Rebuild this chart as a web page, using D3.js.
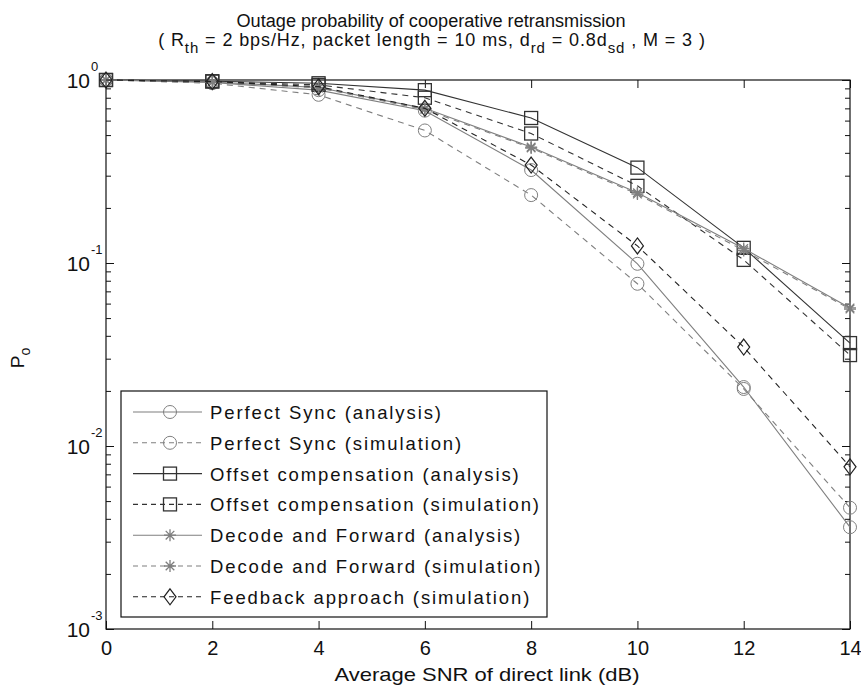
<!DOCTYPE html>
<html>
<head>
<meta charset="utf-8">
<script src="https://cdn.jsdelivr.net/npm/d3@7"></script>
<style>
  body { margin: 0; background: #fff; }
  svg { display: block; font-family: "Liberation Sans", Arial, sans-serif; }
</style>
</head>
<body>
<svg id="chart" width="861" height="687"></svg>
<script>
// data
var snr = [0, 2, 4, 6, 8, 10, 12, 14];
var psAna = [1, 0.97, 0.88, 0.68, 0.322, 0.099, 0.021, 0.0036];
var psSim = [1, 0.96, 0.83, 0.53, 0.235, 0.077, 0.0205, 0.0046];
var ocAna = [1, 0.985, 0.96, 0.88, 0.62, 0.332, 0.121, 0.0365];
var ocSim = [1, 0.98, 0.94, 0.80, 0.51, 0.264, 0.104, 0.0314];
var dfAna = [1, 0.975, 0.91, 0.70, 0.43, 0.242, 0.12, 0.0568];
var dfSim = [1, 0.975, 0.905, 0.69, 0.425, 0.238, 0.117, 0.056];
var fbSim = [1, 0.98, 0.92, 0.70, 0.343, 0.124, 0.0347, 0.0077];
var xTicks = [0, 2, 4, 6, 8, 10, 12, 14];
var yExps = [0, -1, -2, -3];

(function () {
  var series = [
    { name: 'Perfect Sync (analysis)', values: psAna, color: '#7f7f7f', dash: null, marker: 'circle' },
    { name: 'Perfect Sync (simulation)', values: psSim, color: '#7f7f7f', dash: '6,5', marker: 'circle' },
    { name: 'Offset compensation (analysis)', values: ocAna, color: '#333', dash: null, marker: 'square' },
    { name: 'Offset compensation (simulation)', values: ocSim, color: '#333', dash: '6,5', marker: 'square' },
    { name: 'Decode and Forward (analysis)', values: dfAna, color: '#7f7f7f', dash: null, marker: 'star' },
    { name: 'Decode and Forward (simulation)', values: dfSim, color: '#7f7f7f', dash: '6,5', marker: 'star' },
    { name: 'Feedback approach (simulation)', values: fbSim, color: '#222', dash: '6,5', marker: 'diamond' }
  ];

  var svg = d3.select('#chart');
  var pl = 106, pr = 850, pt = 80, pb = 629;

  var x = d3.scaleLinear().domain([0, 14]).range([pl, pr]);
  var y = d3.scaleLog().domain([1e-3, 1]).range([pb, pt]);

  var minors = [];
  yExps.slice(0, 3).forEach(function (e) {
    for (var k = 2; k <= 9; k++) minors.push(k * Math.pow(10, e - 1));
  });
  var majors = yExps.map(function (e) { return Math.pow(10, e); });

  function noDomain(g) { g.select('.domain').remove(); }

  // ticks on all four sides, pointing inward
  svg.append('g').attr('transform', 'translate(0,' + pb + ')')
      .call(d3.axisBottom(x).tickValues(xTicks).tickSize(-8).tickPadding(12).tickSizeOuter(0))
      .call(noDomain)
      .call(function (g) {
        g.selectAll('text').attr('font-size', 20).attr('fill', '#111').attr('font-family', 'Liberation Sans');
      });
  svg.append('g').attr('transform', 'translate(0,' + pt + ')')
      .call(d3.axisTop(x).tickValues(xTicks).tickSize(-8).tickFormat('').tickSizeOuter(0))
      .call(noDomain);
  [[d3.axisLeft, pl], [d3.axisRight, pr]].forEach(function (a) {
    svg.append('g').attr('transform', 'translate(' + a[1] + ',0)')
        .call(a[0](y).tickValues(majors).tickSize(-8).tickFormat('').tickSizeOuter(0))
        .call(noDomain);
    svg.append('g').attr('transform', 'translate(' + a[1] + ',0)')
        .call(a[0](y).tickValues(minors).tickSize(-5).tickFormat('').tickSizeOuter(0))
        .call(noDomain);
  });
  svg.selectAll('.tick line').attr('stroke', '#111');

  svg.append('rect')
      .attr('x', pl).attr('y', pt)
      .attr('width', pr - pl).attr('height', pb - pt)
      .attr('fill', 'none').attr('stroke', '#111').attr('stroke-width', 1.2);

  // y tick labels 10^k
  var yl = svg.append('g').attr('fill', '#111');
  yExps.forEach(function (e) {
    yl.append('text')
        .attr('x', 90).attr('y', y(Math.pow(10, e)) + 8)
        .attr('text-anchor', 'end').attr('font-size', 21)
        .text('10');
    yl.append('text')
        .attr('x', 91).attr('y', y(Math.pow(10, e)) - 9)
        .attr('font-size', 13).text(e === 0 ? '0' : '-' + Math.abs(e));
  });

  function drawMarker(g, type, cx, cy, color) {
    if (type === 'circle') {
      g.append('circle').attr('cx', cx).attr('cy', cy).attr('r', 6.5)
          .attr('fill', 'none').attr('stroke', color);
    } else if (type === 'square') {
      g.append('rect').attr('x', cx - 6.5).attr('y', cy - 6.5).attr('width', 13).attr('height', 13)
          .attr('fill', 'none').attr('stroke', color).attr('stroke-width', 1.3);
    } else if (type === 'diamond') {
      g.append('path').attr('d', 'M' + cx + ',' + (cy - 8) + 'L' + (cx + 6) + ',' + cy + 'L' + cx + ',' + (cy + 8) + 'L' + (cx - 6) + ',' + cy + 'Z')
          .attr('fill', 'none').attr('stroke', color).attr('stroke-width', 1.2);
    } else if (type === 'star') {
      var r = 6, d = 4.3;
      g.append('path').attr('d',
          'M' + cx + ',' + (cy - r) + 'V' + (cy + r) +
          'M' + (cx - r) + ',' + cy + 'H' + (cx + r) +
          'M' + (cx - d) + ',' + (cy - d) + 'L' + (cx + d) + ',' + (cy + d) +
          'M' + (cx - d) + ',' + (cy + d) + 'L' + (cx + d) + ',' + (cy - d))
          .attr('fill', 'none').attr('stroke', color).attr('stroke-width', 1.3);
    }
  }

  var line = d3.line()
      .x(function (d) { return x(d[0]); })
      .y(function (d) { return y(d[1]); });

  var plot = svg.append('g');
  series.forEach(function (s) {
    var pts = snr.map(function (v, i) { return [v, s.values[i]]; });
    plot.append('path')
        .attr('d', line(pts))
        .attr('fill', 'none')
        .attr('stroke', s.color)
        .attr('stroke-width', 1.1)
        .attr('stroke-dasharray', s.dash);
    var mg = plot.append('g');
    pts.forEach(function (p) {
      drawMarker(mg, s.marker, x(p[0]), y(p[1]), s.color);
    });
  });

  // legend
  var lg = svg.append('g');
  lg.append('rect')
      .attr('x', 121).attr('y', 391).attr('width', 426).attr('height', 226)
      .attr('fill', '#fff').attr('stroke', '#111').attr('stroke-width', 1.2);
  series.forEach(function (s, i) {
    var cy = 412 + i * 30.8;
    lg.append('line')
        .attr('x1', 133).attr('x2', 202).attr('y1', cy).attr('y2', cy)
        .attr('stroke', s.color).attr('stroke-width', 1.1)
        .attr('stroke-dasharray', s.dash ? '5,4' : null);
    drawMarker(lg, s.marker, 170, cy, s.color);
    lg.append('text')
        .attr('x', 210).attr('y', cy + 7)
        .attr('font-size', 18.5).attr('letter-spacing', 1.9).attr('fill', '#111')
        .text(s.name);
  });

  // titles
  svg.append('text')
      .attr('x', 431).attr('y', 27).attr('text-anchor', 'middle')
      .attr('font-size', 18).attr('fill', '#111')
      .attr('textLength', 389).attr('lengthAdjust', 'spacingAndGlyphs')
      .text('Outage probability of cooperative retransmission');

  var t2 = svg.append('text')
      .attr('x', 432).attr('y', 46).attr('text-anchor', 'middle')
      .attr('font-size', 18).attr('letter-spacing', 0.9).attr('fill', '#111');
  t2.append('tspan').text('( R');
  t2.append('tspan').attr('dy', 7).attr('font-size', 15).text('th');
  t2.append('tspan').attr('dy', -7).text(' = 2 bps/Hz, packet length = 10 ms, d');
  t2.append('tspan').attr('dy', 7).attr('font-size', 15).text('rd');
  t2.append('tspan').attr('dy', -7).text(' = 0.8d');
  t2.append('tspan').attr('dy', 7).attr('font-size', 15).text('sd');
  t2.append('tspan').attr('dy', -7).text('  , M = 3 )');

  svg.append('text')
      .attr('x', 487).attr('y', 681).attr('text-anchor', 'middle')
      .attr('font-size', 19).attr('fill', '#111')
      .attr('textLength', 305).attr('lengthAdjust', 'spacingAndGlyphs')
      .text('Average SNR of direct link (dB)');

  var yt = svg.append('text')
      .attr('transform', 'translate(24,358) rotate(-90)')
      .attr('text-anchor', 'middle').attr('font-size', 19).attr('fill', '#111');
  yt.append('tspan').text('P');
  yt.append('tspan').attr('dy', 6).attr('font-size', 14).text('o');
})();
</script>
</body>
</html>
